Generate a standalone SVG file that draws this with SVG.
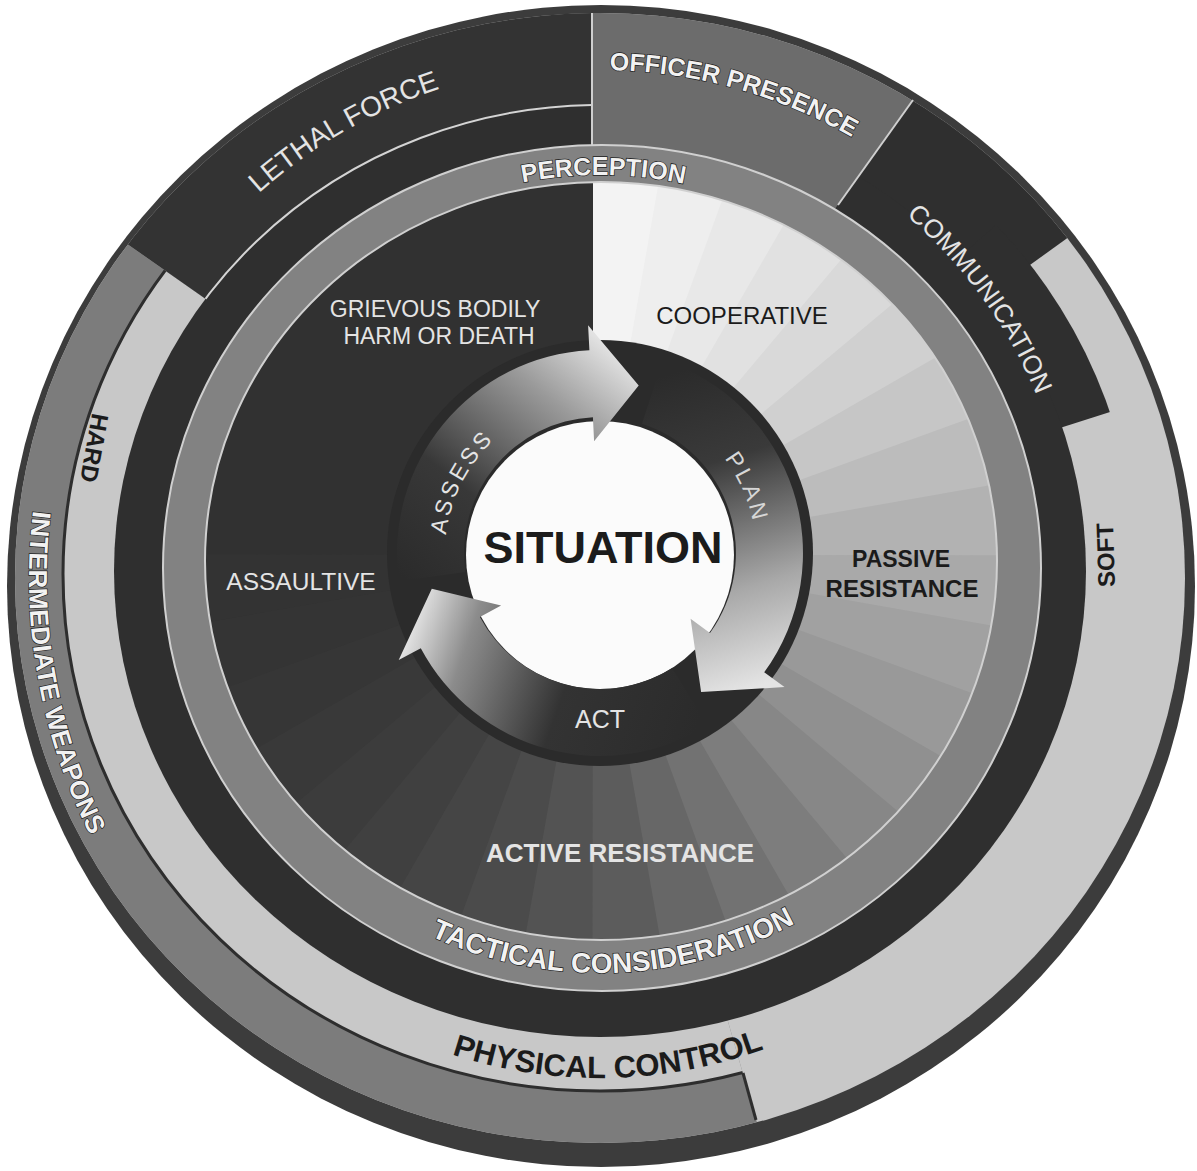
<svg xmlns="http://www.w3.org/2000/svg" width="1197" height="1171" viewBox="0 0 1197 1171">
<style>
text{font-family:"Liberation Sans",Arial,sans-serif}
.lt{fill:#e4e4e4}
.ol{fill:#f2f2f2;stroke:#1c1c1c;stroke-width:1.4;paint-order:stroke;font-weight:bold}
.dk{fill:#1b1b1b}
.sep{fill:none;stroke:#d4d4d4;stroke-width:2}
.w{fill:none;stroke-width:470;stroke-dasharray:43 2000}
</style>
<defs>
<clipPath id="cInter"><polygon points="600,575 848,1440 292,1421 -246,883 -137,59"/></clipPath>
<clipPath id="cLethal"><polygon points="600,575 -137,59 -137,-400 592,-400 592,575"/></clipPath>
<clipPath id="cOfficer"><polygon points="592,-400 592,549 1270,-400"/></clipPath>
<clipPath id="cCommO"><polygon points="592,549 1270,-400 1496,-71 600,575"/></clipPath>
<clipPath id="cCommI"><polygon points="600,575 1420,-150 1570,265"/></clipPath>
<clipPath id="cInner"><ellipse cx="601" cy="561" rx="396" ry="379"/></clipPath>
<linearGradient id="gA" gradientUnits="userSpaceOnUse" x1="430" y1="600" x2="625" y2="360"><stop offset="0" stop-color="#2b2b2b"/><stop offset="0.35" stop-color="#383838"/><stop offset="0.75" stop-color="#9a9a9a"/><stop offset="1" stop-color="#e2e2e2"/></linearGradient>
<linearGradient id="gP" gradientUnits="userSpaceOnUse" x1="650" y1="380" x2="745" y2="690"><stop offset="0" stop-color="#2b2b2b"/><stop offset="0.3" stop-color="#3a3a3a"/><stop offset="0.7" stop-color="#a8a8a8"/><stop offset="1" stop-color="#e4e4e4"/></linearGradient>
<linearGradient id="gC" gradientUnits="userSpaceOnUse" x1="700" y1="720" x2="410" y2="620"><stop offset="0" stop-color="#2b2b2b"/><stop offset="0.45" stop-color="#333333"/><stop offset="0.8" stop-color="#8c8c8c"/><stop offset="1" stop-color="#e8e8e8"/></linearGradient>
<path id="tpLethal" d="M118.9,399.9 A512,512 0 0 1 688.9,70.8"/>
<path id="tpOfficer" d="M390.6,115.4 A505,505 0 0 1 1016.2,289"/>
<path id="tpComm" d="M714.2,117 A472,472 0 0 1 1070.9,607.9"/>
<path id="tpPerc" d="M345.6,266.4 A400,400 0 0 1 859.8,270.8"/>
<path id="tpTact" d="M327,868.2 A408,408 0 0 0 893.5,848.4"/>
<path id="tpPhys" d="M274,949.6 A478,478 0 0 0 938,938"/>
<path id="tpInter" d="M162.6,211 A571,571 0 0 0 314.5,1072.5"/>
<path id="tpAssess" d="M457.3,613.6 A155,155 0 0 1 565.1,402"/>
<path id="tpPlan" d="M643,403 A156,156 0 0 1 740.2,621.4"/>
</defs>
<rect width="1197" height="1171" fill="#ffffff"/>

<g id="outer-ring">
<ellipse cx="601" cy="586" rx="594" ry="581" fill="#3c3c3c"/>
<ellipse cx="600" cy="578" rx="585" ry="565" fill="#c8c8c8"/>
<g id="intermediate-weapons" clip-path="url(#cInter)">
<ellipse cx="600" cy="578" rx="585" ry="565" fill="#7c7c7c"/>
<ellipse cx="600" cy="574" rx="537" ry="517" fill="#c8c8c8" stroke="#2e2e2e" stroke-width="3"/>
</g>
<line x1="743" y1="1073" x2="756" y2="1120" stroke="#2e2e2e" stroke-width="3"/>
<g id="communication">
<ellipse cx="600" cy="578" rx="585" ry="565" fill="#2f2f2f" clip-path="url(#cCommO)"/>
<ellipse cx="600" cy="574" rx="537" ry="517" fill="#2f2f2f" clip-path="url(#cCommI)"/>
</g>
<g id="lethal-force">
<ellipse cx="600" cy="578" rx="585" ry="565" fill="#333333" clip-path="url(#cLethal)"/>
</g>
<ellipse id="dark-ring" cx="600" cy="571" rx="486" ry="466" fill="#2f2f2f"/>
<ellipse cx="600" cy="571" rx="486" ry="466" class="sep" clip-path="url(#cLethal)"/>
<g id="officer-presence">
<ellipse cx="600" cy="578" rx="585" ry="565" fill="#6c6c6c" clip-path="url(#cOfficer)"/>
</g>
<line x1="592" y1="13" x2="592" y2="146" stroke="#cfcfcf" stroke-width="2"/>
<line x1="913" y1="100" x2="838" y2="205" stroke="#cfcfcf" stroke-width="2"/>
</g>

<g id="perception-ring">
<ellipse cx="602" cy="568" rx="439" ry="423" fill="#828282" stroke="#d0d0d0" stroke-width="2"/>
</g>

<g id="inner-disc" clip-path="url(#cInner)">
<ellipse cx="601" cy="561" rx="396" ry="379" fill="#6a6a6a"/>
<g transform="rotate(-90 593 555)">
<circle class="w" cx="593" cy="555" r="240" stroke="#f3f3f3" stroke-dashoffset="0"/>
<circle class="w" cx="593" cy="555" r="240" stroke="#eeeeee" stroke-dashoffset="-41.89"/>
<circle class="w" cx="593" cy="555" r="240" stroke="#e8e8e8" stroke-dashoffset="-83.78"/>
<circle class="w" cx="593" cy="555" r="240" stroke="#e1e1e1" stroke-dashoffset="-125.66"/>
<circle class="w" cx="593" cy="555" r="240" stroke="#d9d9d9" stroke-dashoffset="-167.55"/>
<circle class="w" cx="593" cy="555" r="240" stroke="#d0d0d0" stroke-dashoffset="-209.44"/>
<circle class="w" cx="593" cy="555" r="240" stroke="#c6c6c6" stroke-dashoffset="-251.33"/>
<circle class="w" cx="593" cy="555" r="240" stroke="#bcbcbc" stroke-dashoffset="-293.22"/>
<circle class="w" cx="593" cy="555" r="240" stroke="#b2b2b2" stroke-dashoffset="-335.10"/>
<circle class="w" cx="593" cy="555" r="240" stroke="#a9a9a9" stroke-dashoffset="-376.99"/>
<circle class="w" cx="593" cy="555" r="240" stroke="#a1a1a1" stroke-dashoffset="-418.88"/>
<circle class="w" cx="593" cy="555" r="240" stroke="#999999" stroke-dashoffset="-460.77"/>
<circle class="w" cx="593" cy="555" r="240" stroke="#909090" stroke-dashoffset="-502.65"/>
<circle class="w" cx="593" cy="555" r="240" stroke="#878787" stroke-dashoffset="-544.54"/>
<circle class="w" cx="593" cy="555" r="240" stroke="#7d7d7d" stroke-dashoffset="-586.43"/>
<circle class="w" cx="593" cy="555" r="240" stroke="#727272" stroke-dashoffset="-628.32"/>
<circle class="w" cx="593" cy="555" r="240" stroke="#676767" stroke-dashoffset="-670.21"/>
<circle class="w" cx="593" cy="555" r="240" stroke="#5c5c5c" stroke-dashoffset="-712.09"/>
<circle class="w" cx="593" cy="555" r="240" stroke="#535353" stroke-dashoffset="-753.98"/>
<circle class="w" cx="593" cy="555" r="240" stroke="#4b4b4b" stroke-dashoffset="-795.87"/>
<circle class="w" cx="593" cy="555" r="240" stroke="#454545" stroke-dashoffset="-837.76"/>
<circle class="w" cx="593" cy="555" r="240" stroke="#404040" stroke-dashoffset="-879.65"/>
<circle class="w" cx="593" cy="555" r="240" stroke="#3c3c3c" stroke-dashoffset="-921.53"/>
<circle class="w" cx="593" cy="555" r="240" stroke="#393939" stroke-dashoffset="-963.42"/>
<circle class="w" cx="593" cy="555" r="240" stroke="#363636" stroke-dashoffset="-1005.31"/>
<circle class="w" cx="593" cy="555" r="240" stroke="#343434" stroke-dashoffset="-1047.20"/>
<circle class="w" cx="593" cy="555" r="240" stroke="#333333" stroke-dashoffset="-1089.08"/>
<circle cx="593" cy="555" r="240" fill="none" stroke-width="470" stroke="#313131" stroke-dasharray="377 2000" stroke-dashoffset="-1130.97"/>
</g>
</g>
<ellipse cx="601" cy="561" rx="396" ry="379" fill="none" stroke="#d0d0d0" stroke-width="2"/>

<g id="situation">
<circle cx="600" cy="553" r="213" fill="#2b2b2b"/>
<circle cx="600" cy="555" r="134" fill="#fbfbfb"/>
</g>

<g id="cycle-arrows">
<path id="arrow-assess" d="M399,581.3 A203,203 0 0 1 589.4,350.3 L588.1,325.3 L638.7,385.4 L594.1,441.2 L592.9,417.2 A136,136 0 0 0 465.3,571.9 Z" fill="url(#gA)"/>
<path id="arrow-plan" d="M662.7,359.9 A203,203 0 0 1 764.2,672.3 L784.5,687 L701.1,692.1 L690.6,618.8 L710,632.9 A136,136 0 0 0 642,423.7 Z" fill="url(#gP)"/>
<path id="arrow-act" d="M707.6,725.1 A203,203 0 0 1 420.8,648.3 L398.7,660 L431.8,588.8 L501.1,605.6 L479.9,616.9 A136,136 0 0 0 672.1,668.3 Z" fill="url(#gC)"/>
</g>

<g id="labels">
<text class="lt" font-size="28"><textPath href="#tpLethal" startOffset="50%" text-anchor="middle">LETHAL FORCE</textPath></text>
<text class="ol" font-size="25"><textPath href="#tpOfficer" startOffset="50%" text-anchor="middle">OFFICER PRESENCE</textPath></text>
<text class="lt" font-size="26"><textPath href="#tpComm" startOffset="50%" text-anchor="middle">COMMUNICATION</textPath></text>
<text class="ol" font-size="25"><textPath href="#tpPerc" startOffset="50%" text-anchor="middle">PERCEPTION</textPath></text>
<text class="ol" font-size="28"><textPath href="#tpTact" startOffset="50%" text-anchor="middle">TACTICAL CONSIDERATION</textPath></text>
<text class="dk" font-size="31" font-weight="bold"><textPath href="#tpPhys" startOffset="50%" text-anchor="middle">PHYSICAL CONTROL</textPath></text>
<text class="ol" font-size="26"><textPath href="#tpInter" startOffset="50%" text-anchor="middle">INTERMEDIATE WEAPONS</textPath></text>
<text class="dk" font-size="24" font-weight="bold" text-anchor="middle" transform="translate(94,448) rotate(100)" y="8">HARD</text>
<text class="dk" font-size="24" font-weight="bold" text-anchor="middle" transform="translate(1106,555) rotate(-92)" y="8">SOFT</text>
<text class="lt" font-size="23" text-anchor="middle" x="435" y="317">GRIEVOUS BODILY</text>
<text class="lt" font-size="23" text-anchor="middle" x="439" y="344">HARM OR DEATH</text>
<text class="dk" font-size="24" text-anchor="middle" x="742" y="324">COOPERATIVE</text>
<text class="dk" font-size="23" font-weight="bold" text-anchor="middle" x="901" y="567">PASSIVE</text>
<text class="dk" font-size="24" font-weight="bold" text-anchor="middle" x="902" y="597">RESISTANCE</text>
<text class="lt" font-size="24.5" text-anchor="middle" x="301" y="590">ASSAULTIVE</text>
<text class="lt" font-size="26" font-weight="bold" text-anchor="middle" x="620" y="862">ACTIVE RESISTANCE</text>
<text class="lt" font-size="25" text-anchor="middle" x="600" y="728">ACT</text>
<text class="lt" font-size="23"><textPath href="#tpAssess" startOffset="50%" text-anchor="middle" letter-spacing="3">ASSESS</textPath></text>
<text font-size="23" fill="#d6d6d6"><textPath href="#tpPlan" startOffset="50%" text-anchor="middle" letter-spacing="3">PLAN</textPath></text>
<text font-size="45" font-weight="bold" fill="#1c1c1c" text-anchor="middle" x="603" y="563">SITUATION</text>
</g>
</svg>
